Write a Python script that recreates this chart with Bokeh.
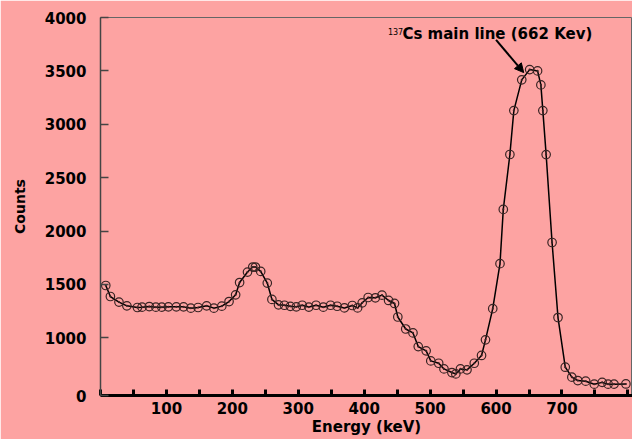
from bokeh.plotting import figure
from bokeh.models import Range1d, FixedTicker, Label, Arrow, NormalHead
from bokeh.embed import file_html
from bokeh.resources import INLINE

# --- data (energy in keV, counts) ---
energy_kev = [8, 15, 28, 40, 56, 63, 74, 84, 93, 103, 115, 126, 137, 148, 161, 172,
              184, 195, 205, 211, 223, 231, 235, 243, 253, 260, 270, 279, 288, 297,
              306, 316, 327, 338, 349, 359, 370, 382, 390, 397, 406, 417, 427, 437,
              446, 451, 463, 474, 482, 494, 501, 513, 521, 533, 539, 546, 556, 567,
              578, 584, 595, 606, 611, 621, 627, 639, 651, 663, 668, 671, 676, 685,
              694, 705, 715, 724, 736, 749, 761, 770, 779, 797]
counts = [1490, 1387, 1335, 1300, 1284, 1287, 1293, 1287, 1287, 1290, 1290, 1290, 1278,
          1284, 1300, 1278, 1297, 1340, 1403, 1518, 1616, 1663, 1663, 1622, 1513, 1360,
          1309, 1305, 1295, 1290, 1305, 1288, 1305, 1287, 1305, 1296, 1280, 1303, 1280,
          1328, 1378, 1375, 1400, 1350, 1322, 1195, 1083, 1046, 918, 878, 784, 762, 709,
          675, 662, 709, 700, 762, 835, 981, 1273, 1695, 2203, 2717, 3128, 3416, 3512,
          3500, 3369, 3128, 2716, 1893, 1190, 725, 632, 600, 594, 566, 583, 566, 566, 568]

x_ticks = list(range(0, 801, 50))
x_tick_labels = {t: (str(t) if (t % 100 == 0 and 0 < t < 800) else "") for t in x_ticks}
y_floor = 460  # broken-axis baseline labelled "0"
y_ticks = [y_floor, 1000, 1500, 2000, 2500, 3000, 3500, 4000]
y_tick_labels = {y_floor: "0"}

peak_label = "Cs main line (662 Kev)"
peak_sup = "137"

BG = "#FDA3A2"
FONT = "DejaVu Sans"

p = figure(width=632, height=439, x_range=Range1d(0, 807), y_range=Range1d(y_floor, 4000),
           output_backend="svg", toolbar_location=None,
           min_border_left=100, min_border_right=0, min_border_top=17, min_border_bottom=44)
p.background_fill_color = BG
p.border_fill_color = BG
p.outline_line_color = "#666666"
p.outline_line_width = 1
p.xgrid.visible = False
p.ygrid.visible = False

# x axis
xa = p.xaxis[0]
xa.ticker = FixedTicker(ticks=x_ticks)
xa.major_label_overrides = x_tick_labels
xa.axis_line_width = 3
xa.axis_line_color = "black"
xa.major_tick_in = 6
xa.major_tick_out = 0
xa.major_tick_line_width = 3
xa.major_tick_line_color = "black"
xa.minor_tick_line_color = None
xa.major_label_text_font = FONT
xa.major_label_text_font_style = "bold"
xa.major_label_text_font_size = "15px"
xa.major_label_text_color = "black"
xa.major_label_standoff = 6
xa.axis_label = "Energy (keV)"
xa.axis_label_text_font = FONT
xa.axis_label_text_font_style = "bold"
xa.axis_label_text_font_size = "15px"
xa.axis_label_text_color = "black"
xa.axis_label_standoff = 1

# y axis
ya = p.yaxis[0]
ya.ticker = FixedTicker(ticks=y_ticks)
ya.major_label_overrides = y_tick_labels
ya.axis_line_width = 1.5
ya.axis_line_color = "#444444"
ya.major_tick_in = 8
ya.major_tick_out = 0
ya.major_tick_line_width = 1.5
ya.major_tick_line_color = "#444444"
ya.minor_tick_line_color = None
ya.major_label_text_font = FONT
ya.major_label_text_font_style = "bold"
ya.major_label_text_font_size = "15px"
ya.major_label_text_color = "black"
ya.major_label_standoff = 14
ya.axis_label = "Counts"
ya.axis_label_text_font = FONT
ya.axis_label_text_font_style = "bold"
ya.axis_label_text_font_size = "14px"
ya.axis_label_text_color = "black"
ya.axis_label_standoff = 14

p.line(energy_kev, counts, line_color="black", line_width=1.5)
p.scatter(energy_kev, counts, marker="circle_dot", size=8.5, line_color="#3a2424",
          line_width=1.2, fill_alpha=0)

# annotation
p.add_layout(Label(x=458, y=3845, text=peak_label, text_font=FONT, text_font_style="bold",
                   text_font_size="15px", text_color="black", text_baseline="alphabetic"))
p.add_layout(Label(x=436, y=3872, text=peak_sup, text_font=FONT, text_font_size="8px",
                   text_color="black", text_baseline="alphabetic"))
p.add_layout(Arrow(x_start=600, y_start=3790, x_end=642, y_end=3484, line_width=2,
                   line_color="black",
                   end=NormalHead(size=9, fill_color="black", line_color="black")))

open("out.html", "w").write(file_html(p, INLINE))
